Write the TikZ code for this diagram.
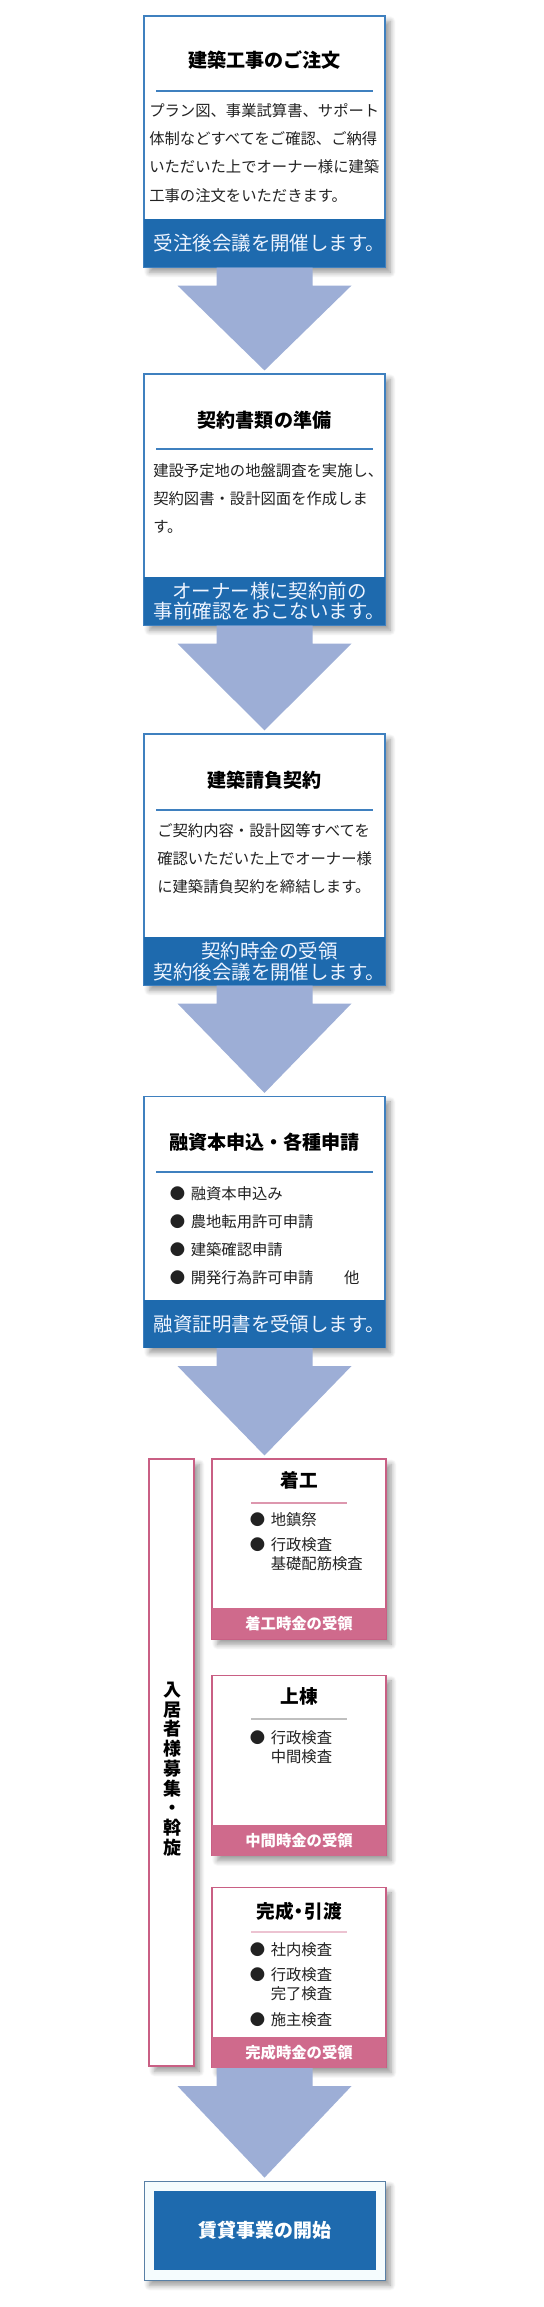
\documentclass[tikz,border=0pt]{standalone}
\usepackage{fontspec}
\setmainfont{Noto Sans CJK JP}
\usetikzlibrary{calc,shadows.blur}

\definecolor{bandblue}{HTML}{1E6AAE}
\definecolor{boxblue}{HTML}{3F80BF}
\definecolor{rosa}{HTML}{CF6A8C}
\definecolor{rosaline}{HTML}{C95F84}
\definecolor{arrowblue}{HTML}{9DAED6}
\definecolor{bandtext}{HTML}{EEF4FF}
\definecolor{bodytext}{HTML}{222222}

\newcommand{\bul}{\makebox[15.75pt][l]{●}}
\newcommand{\flowarrow}[2]{%
  \fill[arrowblue] ($(col |- #1.south)+(-48,0)$) -- ($(col |- #1.south)+(48,0)$)
    -- ($(col |- #1.south)+(48,18)$) -- ($(col |- #1.south)+(87,18)$)
    -- ($(col |- #2.north)+(0,-3)$)
    -- ($(col |- #1.south)+(-87,18)$) -- ($(col |- #1.south)+(-48,18)$) -- cycle;}

\tikzset{
  softshadow/.style={blur shadow={shadow xshift=4pt,shadow yshift=-4pt,shadow blur steps=8,shadow blur radius=4pt}},
  mainbox/.style={draw=boxblue,line width=0.8pt,fill=white,minimum width=180.75pt,minimum height=188.25pt,inner sep=0pt,softshadow},
  mainband/.style={fill=bandblue,minimum width=180.75pt,minimum height=36pt,inner sep=0pt,anchor=south},
  bandtxt/.style={text=bandtext,inner sep=0pt,align=center,font=\fontsize{14.6}{14.6}\selectfont},
  maintitle/.style={font=\fontsize{14.3}{16}\selectfont\bfseries,inner sep=0pt},
  bodytxt/.style={anchor=north west,align=left,inner sep=0pt,text=bodytext,font=\fontsize{11.5}{21.2}\selectfont},
  listtxt/.style={anchor=north west,align=left,inner sep=0pt,text=bodytext,font=\fontsize{11.5}{14.25}\selectfont},
  pinkbox/.style={draw=rosaline,line width=0.8pt,fill=white,minimum width=130.5pt,minimum height=135pt,inner sep=0pt,softshadow},
  pinkband/.style={fill=rosa,text=white,minimum width=130.5pt,minimum height=23.25pt,inner sep=0pt,
    font=\fontsize{11.5}{12}\selectfont\bfseries},
  pinktitle/.style={font=\fontsize{14}{16}\selectfont\bfseries,inner sep=0pt}
}

\begin{document}
\begin{tikzpicture}[x=0.75pt,y=-0.75pt]
\useasboundingbox (0,0) rectangle (543,2307);
\coordinate (col) at (264.5,0);

% Schritt 1
\node[mainbox] (b1) at (264.5,141.5) {};
\node[mainband] (b1band) at (b1.south) {};
\node[bandtxt] (b1bandtxt) at ($(b1band.center)+(5,0)$) {受注後会議を開催します。};
\node[maintitle] (b1title) at (264.5,60) {建築工事のご注文};
\draw[boxblue,line width=0.8pt] (156,91)--(373,91);
\node[bodytxt] (b1text) at (149,103) {プラン図、事業試算書、サポート\\体制などすべてをご確認、ご納得\\いただいた上でオーナー様に建築\\工事の注文をいただきます。};

% Schritt 2
\node[mainbox] (b2) at (264.5,499.5) {};
\node[mainband] (b2band) at (b2.south) {};
\node[bandtxt] (b2bandtxt) at ($(b2band.center)+(5,0)$) {オーナー様に契約前の\\事前確認をおこないます。};
\node[maintitle] (b2title) at (264.5,420) {契約書類の準備};
\draw[boxblue,line width=0.8pt] (156,449)--(373,449);
\node[bodytxt] (b2text) at (153,463) {建設予定地の地盤調査を実施し、\\契約図書・設計図面を作成しま\\す。};

% Schritt 3
\node[mainbox] (b3) at (264.5,859.5) {};
\node[mainband] (b3band) at (b3.south) {};
\node[bandtxt,font=\fontsize{14.6}{15.75}\selectfont] (b3bandtxt) at ($(b3band.center)+(5,0)$) {契約時金の受領\\契約後会議を開催します。};
\node[maintitle] (b3title) at (264.5,780) {建築請負契約};
\draw[boxblue,line width=0.8pt] (156,810)--(373,810);
\node[bodytxt] (b3text) at (157,823) {ご契約内容・設計図等すべてを\\確認いただいた上でオーナー様\\に建築請負契約を締結します。};

% Schritt 4
\node[mainbox] (b4) at (264.5,1222) {};
\node[mainband] (b4band) at (b4.south) {};
\node[bandtxt] (b4bandtxt) at ($(b4band.center)+(5,0)$) {融資証明書を受領します。};
\node[maintitle] (b4title) at (264.5,1142) {融資本申込・各種申請};
\draw[boxblue,line width=0.8pt] (156,1172)--(373,1172);
\node[bodytxt] (b4text) at (169.5,1186) {\bul 融資本申込み\\\bul 農地転用許可申請\\\bul 建築確認申請\\\bul 開発行為許可申請　　他};

% Bauphase
\node[draw=rosaline,line width=0.8pt,fill=white,minimum width=33.75pt,minimum height=455.25pt,inner sep=0pt,softshadow] (side) at (171.5,1762.5) {};
\node[align=center,inner sep=0pt,font=\fontsize{13.5}{14.8}\selectfont\bfseries] (sidetext) at (172,1769) {入\\居\\者\\様\\募\\集\\・\\斡\\旋};

\node[pinkbox] (p1) at (299,1549) {};
\node[pinkband,anchor=south] (p1band) at (p1.south) {着工時金の受領};
\node[pinktitle] (p1title) at (299,1480) {着工};
\draw[rosa!70,line width=0.8pt] (251,1503)--(347,1503);
\node[listtxt] (p1text) at (249.5,1512) {\bul 地鎮祭\\[5pt]\bul 行政検査\\\hspace{15.75pt}基礎配筋検査};

\node[pinkbox] (p2) at (299,1765.5) {};
\node[pinkband,anchor=south] (p2band) at (p2.south) {中間時金の受領};
\node[pinktitle] (p2title) at (299,1696) {上棟};
\draw[black!25,line width=0.8pt] (251,1719)--(347,1719);
\node[listtxt] (p2text) at (249.5,1730) {\bul 行政検査\\\hspace{15.75pt}中間検査};

\node[pinkbox] (p3) at (299,1977.5) {};
\node[pinkband,anchor=south] (p3band) at (p3.south) {完成時金の受領};
\node[pinktitle] (p3title) at (299,1911) {完成\kern-3pt・\kern-3pt引渡};
\draw[rosa!40,line width=0.8pt] (251,1932)--(347,1932);
\node[listtxt] (p3text) at (249.5,1942) {\bul 社内検査\\[5pt]\bul 行政検査\\\hspace{15.75pt}完了検査\\[5pt]\bul 施主検査};

% Ziel
\node[draw=boxblue!60!gray,line width=0.6pt,fill=cyan!4,minimum width=180.75pt,minimum height=74.25pt,inner sep=0pt,softshadow] (goal) at (264.5,2230.5) {};
\node[fill=bandblue,text=white,minimum width=166.5pt,minimum height=59.25pt,inner sep=0pt,font=\fontsize{14.2}{16}\selectfont\bfseries] (goaltext) at (265,2230.5) {賃貸事業の開始};

\flowarrow{b1}{b2}
\flowarrow{b2}{b3}
\flowarrow{b3}{b4}
\flowarrow{b4}{p1}
\flowarrow{p3}{goal}
\end{tikzpicture}
\end{document}
